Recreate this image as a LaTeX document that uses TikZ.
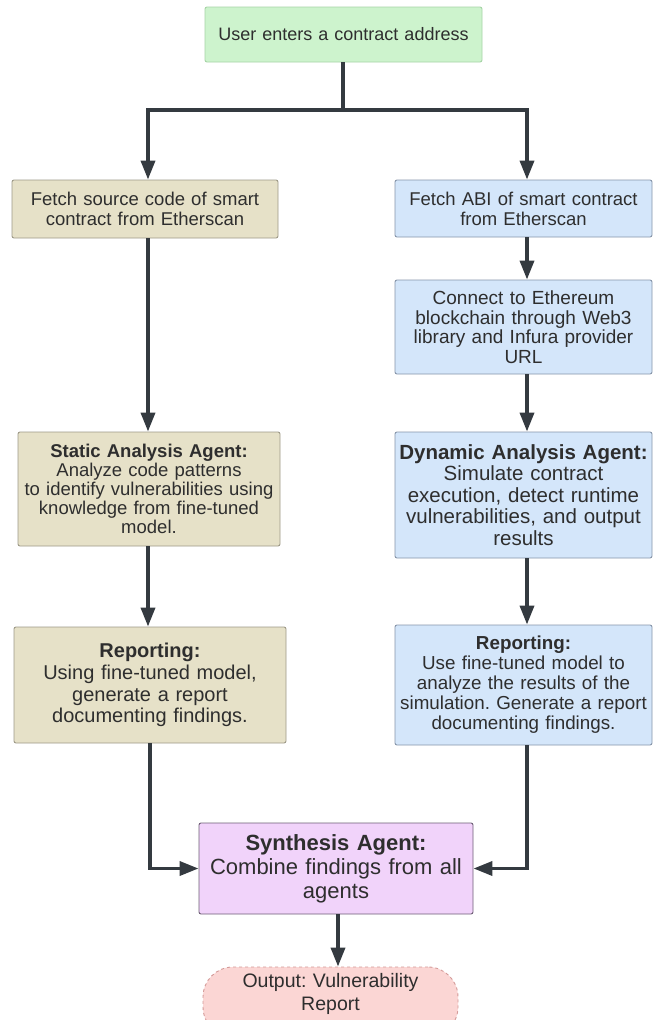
\documentclass[tikz,border=0pt]{standalone}
\usepackage{fontspec}
\setmainfont{Liberation Sans}
\usetikzlibrary{arrows.meta}
\frenchspacing
\definecolor{txt}{HTML}{2E2E2E}
\definecolor{linec}{HTML}{343A40}
\definecolor{gfill}{HTML}{CDF3CD}
\definecolor{gdraw}{HTML}{A6D4A6}
\definecolor{tfill}{HTML}{E6E1C8}
\definecolor{tdraw}{HTML}{9E9A88}
\definecolor{bfill}{HTML}{D4E6FA}
\definecolor{bdraw}{HTML}{8796AA}
\definecolor{pfill}{HTML}{F1D3FA}
\definecolor{pdraw}{HTML}{6E5E76}
\definecolor{rfill}{HTML}{FBD6D4}
\definecolor{rdraw}{HTML}{D49A98}
\tikzset{
  box/.style={draw=#1, line width=0.9pt, rounded corners=2pt, align=center, inner sep=0pt, text=txt, anchor=center},
  conn/.style={draw=linec, line width=3.6pt},
  arr/.style={conn, -{Triangle[length=19pt,width=14pt]}},
}
\newcommand{\fs}[2]{\fontsize{#1}{#2}\selectfont}
\begin{document}
\begin{tikzpicture}[x=1pt,y=-1pt]
\useasboundingbox (0,0) rectangle (653,1020);
\fill[white] (0,0) rectangle (653,1020);
% nodes
\node[box=gdraw, fill=gfill, minimum width=277pt, minimum height=55pt, text width=270pt, font=\fs{18}{20}] (top) at (343.5,34.5) {User enters a contract address};
\node[box=tdraw, fill=tfill, minimum width=266pt, minimum height=58pt, text width=260pt, font=\fs{18.5}{20}] (lb1) at (145,209) {Fetch source code of smart\\contract from Etherscan};
\node[box=bdraw, fill=bfill, minimum width=257pt, minimum height=57pt, text width=254pt, font=\fs{18.5}{20}] (rb1) at (523.5,208.5) {Fetch ABI of smart contract\\from Etherscan};
\node[box=bdraw, fill=bfill, minimum width=257pt, minimum height=94pt, text width=254pt, font=\fs{19}{19.5}] (rb2) at (523.5,327) {Connect to Ethereum\\blockchain through Web3\\library and Infura provider\\URL};
\node[box=tdraw, fill=tfill, minimum width=262pt, minimum height=114pt, text width=260pt, font=\fs{18.5}{19}] (lb2) at (149,489) {{\bfseries Static Analysis Agent:}\\Analyze code patterns\\to identify vulnerabilities using\\knowledge from fine-tuned\\model.};
\node[box=bdraw, fill=bfill, minimum width=257pt, minimum height=126pt, text width=256pt, font=\fs{20.5}{21.5}] (rb3) at (523.5,495) {{\bfseries Dynamic Analysis Agent:}\\Simulate contract\\execution, detect runtime\\vulnerabilities, and output\\results};
\node[box=tdraw, fill=tfill, minimum width=272pt, minimum height=116pt, text width=268pt, font=\fs{20}{21.7}] (lb3) at (150,685) {{\bfseries Reporting:}\\Using fine-tuned model,\\generate a report\\documenting findings.};
\node[box=bdraw, fill=bfill, minimum width=257pt, minimum height=120pt, text width=256pt, font=\fs{18.8}{20}] (rb4) at (523.5,685) {{\bfseries Reporting:}\\Use fine-tuned model to\\analyze the results of the\\simulation. Generate a report\\documenting findings.};
\node[box=pdraw, fill=pfill, minimum width=274pt, minimum height=91pt, text width=270pt, font=\fs{22}{24}] (syn) at (336,868.5) {{\bfseries Synthesis Agent:}\\Combine findings from all\\agents};
\node[box=rdraw, fill=rfill, dashed, rounded corners=30pt, minimum width=255pt, minimum height=70pt, text width=250pt, font=\fs{19.5}{23}] (out) at (330.5,1002) {\raisebox{2.5pt}[0pt][0pt]{\parbox[c]{250pt}{\centering Output: Vulnerability\\Report}}};
% connector coordinates
\coordinate (br) at (343,110);
\coordinate (cl) at (148,110);
\coordinate (cr) at (527,110);
% connectors
\draw[conn] (top.south -| br) -- (br);
\draw[arr] (br) -| (lb1.north -| cl);
\draw[arr] (br) -| (rb1.north -| cr);
\draw[arr] (lb1.south -| cl) -- (lb2.north -| cl);
\draw[arr] (lb2.south -| cl) -- (lb3.north -| cl);
\draw[arr] (rb1.south -| cr) -- (rb2.north -| cr);
\draw[arr] (rb2.south -| cr) -- (rb3.north -| cr);
\draw[arr] (rb3.south -| cr) -- (rb4.north -| cr);
\draw[arr] (lb3.south) |- (syn.west);
\draw[arr] (rb4.south -| cr) |- (syn.east);
\coordinate (cm) at (338,0);
\draw[arr] (syn.south -| cm) -- (out.north -| cm);
\end{tikzpicture}
\end{document}
